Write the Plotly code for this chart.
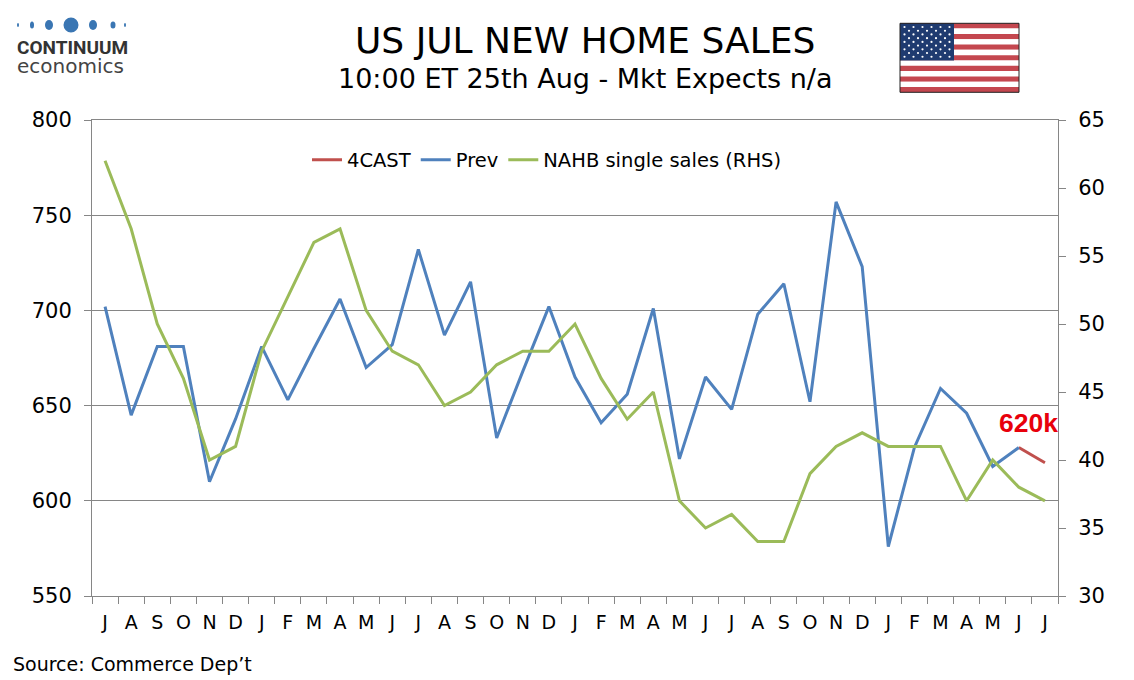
import plotly.graph_objects as go

# Months Jul (yr1) .. Jul (yr4)
months = ["Jul", "Aug", "Sep", "Oct", "Nov", "Dec",
          "Jan", "Feb", "Mar", "Apr", "May", "Jun", "Jul", "Aug", "Sep", "Oct", "Nov", "Dec",
          "Jan", "Feb", "Mar", "Apr", "May", "Jun", "Jul", "Aug", "Sep", "Oct", "Nov", "Dec",
          "Jan", "Feb", "Mar", "Apr", "May", "Jun", "Jul"]
tick_letters = [m[0] for m in months]
cats = [f"{m}-{i}" for i, m in enumerate(months)]  # unique category keys

# New home sales, k (previous releases), Jul .. Jun
prev = [702, 645, 681, 681, 610, 643, 681, 653, 680, 706, 670, 682,
        732, 687, 715, 633, 668, 702, 665, 641, 656, 701, 622, 665,
        648, 698, 714, 652, 757, 723, 576, 628, 659, 646, 618, 628]
forecast = 620

# NAHB single family sales index (RHS)
nahb = [62, 57, 50, 46, 40, 41, 48, 52, 56, 57, 51, 48,
        47, 44, 45, 47, 48, 48, 50, 46, 43, 45, 37, 35,
        36, 34, 34, 39, 41, 42, 41, 41, 41, 37, 40, 38, 37]

RED = '#C0504D'
BLUE = '#4F81BD'
GREEN = '#9BBB59'
GRID = '#868686'
FONT = 'DejaVu Sans'

# the page body adds an 8px margin, so the figure is drawn 8px smaller
OFF = 8
W, H = 1134 - OFF, 680 - OFF
# plot area in reference pixels -> paper coords
L, R, T, B = 92, 1058, 120, 596
def px(x): return (x - L) / (R - L)
def py(y): return (B - y) / (B - T)

fig = go.Figure()
fig.add_trace(go.Scatter(x=cats[-2:], y=[prev[-1], forecast], name='4CAST', mode='lines',
                         line=dict(color=RED, width=3)))
fig.add_trace(go.Scatter(x=cats[:len(prev)], y=prev, name='Prev', mode='lines',
                         line=dict(color=BLUE, width=3)))
fig.add_trace(go.Scatter(x=cats, y=nahb, name='NAHB single sales (RHS)', mode='lines',
                         line=dict(color=GREEN, width=3), yaxis='y2'))

shapes = []
# logo dots
for cx, w, h in [(18, 2, 4), (32, 4, 7), (49, 8, 10), (71, 15, 15), (93, 8, 10), (113, 5, 7), (125, 2, 4)]:
    shapes.append(dict(type='circle', xref='paper', yref='paper',
                       x0=px(cx - w / 2), x1=px(cx + w / 2), y0=py(25 + h / 2), y1=py(25 - h / 2),
                       fillcolor='#3A76B3', line=dict(width=0)))
# flag
fx0, fx1, fy0, fy1 = 900, 1019, 23.3, 92.3
sh = (fy1 - fy0) / 13
for i in range(13):
    shapes.append(dict(type='rect', xref='paper', yref='paper',
                       x0=px(fx0), x1=px(fx1), y0=py(fy0 + (i + 1) * sh), y1=py(fy0 + i * sh),
                       fillcolor='#C4474F' if i % 2 == 0 else 'white', line=dict(width=0)))
cx1, cy1 = 954, fy0 + 7 * sh
shapes.append(dict(type='rect', xref='paper', yref='paper', x0=px(fx0), x1=px(cx1),
                   y0=py(cy1), y1=py(fy0), fillcolor='#1F3B70', line=dict(width=0)))
cw, ch = cx1 - fx0, cy1 - fy0
for r in range(9):
    n = 6 if r % 2 == 0 else 5
    for c in range(n):
        sx = fx0 + ((2 * c + 1) if r % 2 == 0 else (2 * c + 2)) * cw / 12
        sy = fy0 + (r + 1) * ch / 10
        shapes.append(dict(type='circle', xref='paper', yref='paper',
                           x0=px(sx - 1.1), x1=px(sx + 1.1), y0=py(sy + 1.1), y1=py(sy - 1.1),
                           fillcolor='white', line=dict(width=0)))
shapes.append(dict(type='rect', xref='paper', yref='paper', x0=px(fx0), x1=px(fx1),
                   y0=py(fy1), y1=py(fy0), line=dict(color='#222', width=1)))

annotations = [
    dict(text='US JUL NEW HOME SALES', x=px(585), y=py(41), font=dict(size=36, color='black')),
    dict(text='10:00 ET 25th Aug - Mkt Expects n/a', x=px(585), y=py(78), font=dict(size=27, color='black')),
    dict(text='<b>CONTINUUM</b>', x=px(15), y=py(47), xanchor='left',
         font=dict(family='Roboto', size=19, color='#333333')),
    dict(text='economics', x=px(15), y=py(66), xanchor='left',
         font=dict(size=20, color='#444444')),
    dict(text='Source: Commerce Dep\u2019t', x=px(11), y=py(664), xanchor='left',
         font=dict(size=19, color='black')),
    dict(text=f'<b>{forecast}k</b>', xref='x', yref='y', x=cats[-1], y=641, xanchor='right',
         xshift=15, font=dict(family='Liberation Sans', size=26.5, color='#E8000B')),
]
for a in annotations:
    a.setdefault('xref', 'paper')
    a.setdefault('yref', 'paper')
    a.setdefault('xanchor', 'center')
    a.setdefault('yanchor', 'middle')
    a['showarrow'] = False

fig.update_layout(
    width=W, height=H,
    margin=dict(l=L - OFF, r=1134 - R, t=T - OFF, b=680 - B),
    paper_bgcolor='white', plot_bgcolor='white',
    font=dict(family=FONT, size=19, color='black'),
    showlegend=True,
    legend=dict(orientation='h', x=px(547), xanchor='center', y=py(160), yanchor='middle',
                bgcolor='rgba(0,0,0,0)', font=dict(size=19.5), itemwidth=30, traceorder='normal'),
    xaxis=dict(type='category', categoryorder='array', categoryarray=cats,
               range=[-0.5, len(cats) - 0.5], tickmode='array',
               tickvals=cats, ticktext=tick_letters, tickson='boundaries', tickangle=0,
               ticks='outside', ticklen=7, tickcolor=GRID, showline=True, linecolor=GRID,
               mirror=True, showgrid=False, tickfont=dict(size=19), ticklabelstandoff=9),
    yaxis=dict(range=[550, 800], dtick=50, showgrid=True, gridcolor=GRID, gridwidth=1,
               showline=True, linecolor=GRID, ticks='outside', ticklen=7, tickcolor=GRID,
               zeroline=False, ticklabelstandoff=8, tickfont=dict(size=21)),
    yaxis2=dict(range=[30, 65], dtick=5, overlaying='y', side='right', showgrid=False,
                showline=True, linecolor=GRID, ticks='outside', ticklen=7, tickcolor=GRID,
                zeroline=False, ticklabelstandoff=8, tickfont=dict(size=21)),
    shapes=shapes,
    annotations=annotations,
)

fig.write_html('out.html')
